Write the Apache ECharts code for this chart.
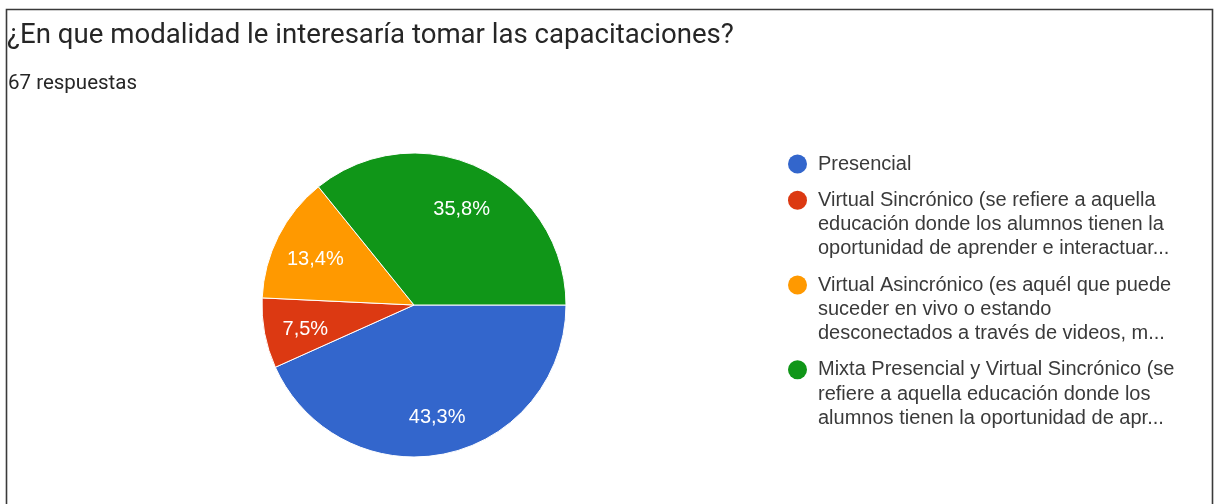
<!DOCTYPE html>
<html>
<head>
<meta charset="utf-8">
<style>
  html, body { margin: 0; padding: 0; background: #ffffff; }
  #chart { width: 1215px; height: 504px; }
</style>
<script src="https://cdn.jsdelivr.net/npm/echarts@6/dist/echarts.min.js"></script>
</head>
<body>
<div id="chart"></div>
<script>
// Survey question and response count
const questionTitle = '¿En que modalidad le interesaría tomar las capacitaciones?';
const responseText = '67 respuestas';

// Answer options (legend lines separated by \n) and number of responses
const categories = [
  'Presencial',
  'Virtual Sincrónico (se refiere a aquella\neducación donde los alumnos tienen la\noportunidad de aprender e interactuar...',
  'Virtual Asincrónico (es aquél que puede\nsuceder en vivo o estando\ndesconectados a través de videos, m...',
  'Mixta Presencial y Virtual Sincrónico (se\nrefiere a aquella educación donde los\nalumnos tienen la oportunidad de apr...'
];
const counts = [29, 5, 9, 24];

const colors = ['#3366cc', '#dc3912', '#ff9900', '#109618'];

const pieCenter = [414, 305];
const pieRadius = 152;

const chart = echarts.init(document.getElementById('chart'), null, { renderer: 'canvas' });

// rich-text styles for the legend: a coloured dot on the first line, indent on the rest
const legendRich = {
  gap: { width: 11 },
  ind: { width: 30 },
  t: { fontSize: 20, fontFamily: 'Liberation Sans, Arial, sans-serif', color: '#3a3a3a', lineHeight: 24.3 }
};
colors.forEach(function (c, i) {
  legendRich['d' + i] = { width: 19, height: 19, borderRadius: 9.5, backgroundColor: c, verticalAlign: 'middle' };
});

chart.setOption({
  animation: false,
  backgroundColor: '#ffffff',
  color: colors,
  title: [
    {
      text: questionTitle,
      left: 7, top: 22, padding: 0,
      textStyle: { fontFamily: 'Roboto, sans-serif', fontSize: 27.6, fontWeight: 'normal', color: '#262626' }
    },
    {
      text: responseText,
      left: 8, top: 73, padding: 0,
      textStyle: { fontFamily: 'Roboto, sans-serif', fontSize: 20.5, fontWeight: 'normal', color: '#262626' }
    }
  ],
  legend: {
    orient: 'vertical',
    left: 783,
    top: 154,
    padding: 0,
    icon: 'none',
    itemWidth: 0,
    itemGap: 16.2,
    selectedMode: false,
    data: categories,
    formatter: function (name) {
      const i = categories.indexOf(name);
      return name.split('\n').map(function (line, k) {
        return (k === 0 ? '{d' + i + '|}{gap|}' : '{ind|}') + '{t|' + line + '}';
      }).join('\n');
    },
    textStyle: { rich: legendRich }
  },
  series: [{
    type: 'pie',
    center: pieCenter,
    radius: pieRadius,
    startAngle: 0,
    clockwise: true,
    avoidLabelOverlap: false,
    emphasis: { disabled: true },
    itemStyle: { borderColor: '#ffffff', borderWidth: 1 },
    label: {
      show: true,
      position: 'inside',
      color: '#ffffff',
      fontSize: 20,
      fontFamily: 'Liberation Sans, Arial, sans-serif',
      formatter: function (p) {
        return p.percent.toFixed(1).replace('.', ',') + '%';
      }
    },
    labelLine: { show: false },
    // push the inside labels further out along their slice's bisector
    labelLayout: function (params) {
      const r = params.labelRect;
      const lx = r.x + r.width / 2;
      const ly = r.y + r.height / 2;
      const k = 1.4;
      return {
        x: pieCenter[0] + (lx - pieCenter[0]) * k,
        y: pieCenter[1] + (ly - pieCenter[1]) * k + 4,
        align: 'center',
        verticalAlign: 'middle'
      };
    },
    data: categories.map(function (name, i) {
      return { name: name, value: counts[i] };
    })
  }],
  graphic: [{
    type: 'rect',
    silent: true,
    shape: { x: 6.5, y: 9.5, width: 1206, height: 600 },
    style: { fill: 'none', stroke: '#3a3a3a', lineWidth: 1.6 }
  }]
});
</script>
</body>
</html>
